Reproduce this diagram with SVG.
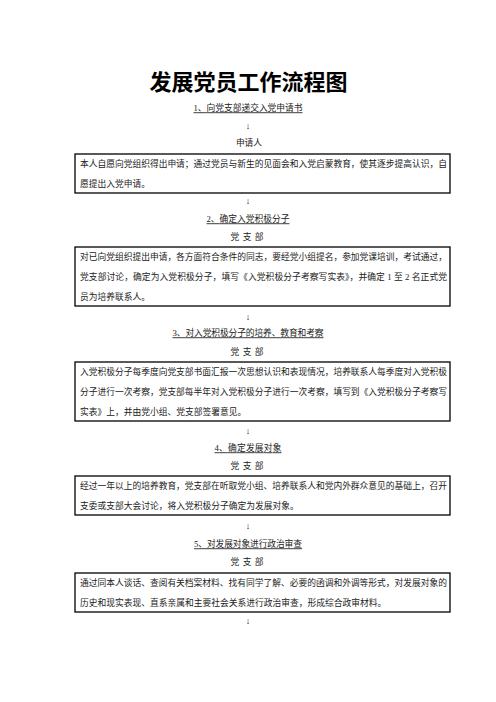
<svg xmlns="http://www.w3.org/2000/svg" width="496" height="702" viewBox="0 0 496 702">
<style>
.t{font-family:"Liberation Serif","Noto Sans CJK SC",serif;fill:#222;}
.title{font-family:"Noto Sans CJK SC",sans-serif;font-size:22px;font-weight:bold;fill:#000;text-anchor:middle;}
.h{font-size:8.75px;text-anchor:middle;text-decoration:underline;}
.s{font-size:8.75px;text-anchor:middle;}
.b{font-size:8.75px;}
.box{fill:none;stroke:#000;stroke-width:1.3;}
.arr{font-family:"Liberation Serif","DejaVu Serif",serif;font-size:9px;fill:#222;text-anchor:middle;}
</style>
<rect width="496" height="702" fill="#fff"/>
<text class="title" x="248.5" y="90">发展党员工作流程图</text>

<g id="step1">
<text class="t h" x="248" y="111.3" textLength="109" lengthAdjust="spacing">1、向党支部递交入党申请书</text>
<text class="t s" x="249" y="146.3">申请人</text>
<rect class="box" x="75" y="154" width="375" height="39"/>
<text class="t b" x="80" y="167.3" textLength="367" lengthAdjust="spacing">本人自愿向党组织得出申请；通过党员与新生的见面会和入党启蒙教育，使其逐步提高认识，自</text>
<text class="t b" x="80" y="187.3">愿提出入党申请。</text>
</g>

<g id="step2">
<text class="t h" x="248" y="222.3" textLength="83" lengthAdjust="spacing">2、确定入党积极分子</text>
<text class="t s" x="247" y="240.3" textLength="33" lengthAdjust="spacing">党 支 部</text>
<rect class="box" x="75" y="247" width="375" height="59"/>
<text class="t b" x="80" y="260.3" textLength="367" lengthAdjust="spacing">对已向党组织提出申请，各方面符合条件的同志，要经党小组提名，参加党课培训，考试通过，</text>
<text class="t b" x="80" y="280.3" textLength="367" lengthAdjust="spacing">党支部讨论，确定为入党积极分子，填写《入党积极分子考察写实表》，并确定 1 至 2 名正式党</text>
<text class="t b" x="80" y="300.3">员为培养联系人。</text>
</g>

<g id="step3">
<text class="t h" x="248" y="336.3" textLength="151" lengthAdjust="spacing">3、对入党积极分子的培养、教育和考察</text>
<text class="t s" x="247" y="355.3" textLength="33" lengthAdjust="spacing">党 支 部</text>
<rect class="box" x="75" y="362" width="375" height="59"/>
<text class="t b" x="80" y="375.3" textLength="367" lengthAdjust="spacing">入党积极分子每季度向党支部书面汇报一次思想认识和表现情况，培养联系人每季度对入党积极</text>
<text class="t b" x="80" y="395.3" textLength="367" lengthAdjust="spacing">分子进行一次考察，党支部每半年对入党积极分子进行一次考察，填写到《入党积极分子考察写</text>
<text class="t b" x="80" y="415.3">实表》上，并由党小组、党支部签署意见。</text>
</g>

<g id="step4">
<text class="t h" x="248" y="451.3" textLength="67" lengthAdjust="spacing">4、确定发展对象</text>
<text class="t s" x="247" y="469.3" textLength="33" lengthAdjust="spacing">党 支 部</text>
<rect class="box" x="75" y="476" width="375" height="39"/>
<text class="t b" x="80" y="489.3" textLength="367" lengthAdjust="spacing">经过一年以上的培养教育，党支部在听取党小组、培养联系人和党内外群众意见的基础上，召开</text>
<text class="t b" x="80" y="509.3">支委或支部大会讨论，将入党积极分子确定为发展对象。</text>
</g>

<g id="step5">
<text class="t h" x="248" y="547.3" textLength="108" lengthAdjust="spacing">5、对发展对象进行政治审查</text>
<text class="t s" x="247" y="565.3" textLength="33" lengthAdjust="spacing">党 支 部</text>
<rect class="box" x="75" y="573" width="375" height="39"/>
<text class="t b" x="80" y="586.3" textLength="367" lengthAdjust="spacing">通过同本人谈话、查阅有关档案材料、找有同学了解、必要的函调和外调等形式，对发展对象的</text>
<text class="t b" x="80" y="606.3">历史和现实表现、直系亲属和主要社会关系进行政治审查，形成综合政审材料。</text>
</g>

<g id="connectors">
<text class="arr" x="248" y="128.5">↓</text>
<text class="arr" x="248" y="203.5">↓</text>
<text class="arr" x="248" y="319.5">↓</text>
<text class="arr" x="248" y="433.5">↓</text>
<text class="arr" x="248" y="528.5">↓</text>
<text class="arr" x="248" y="624">↓</text>
</g>
</svg>
